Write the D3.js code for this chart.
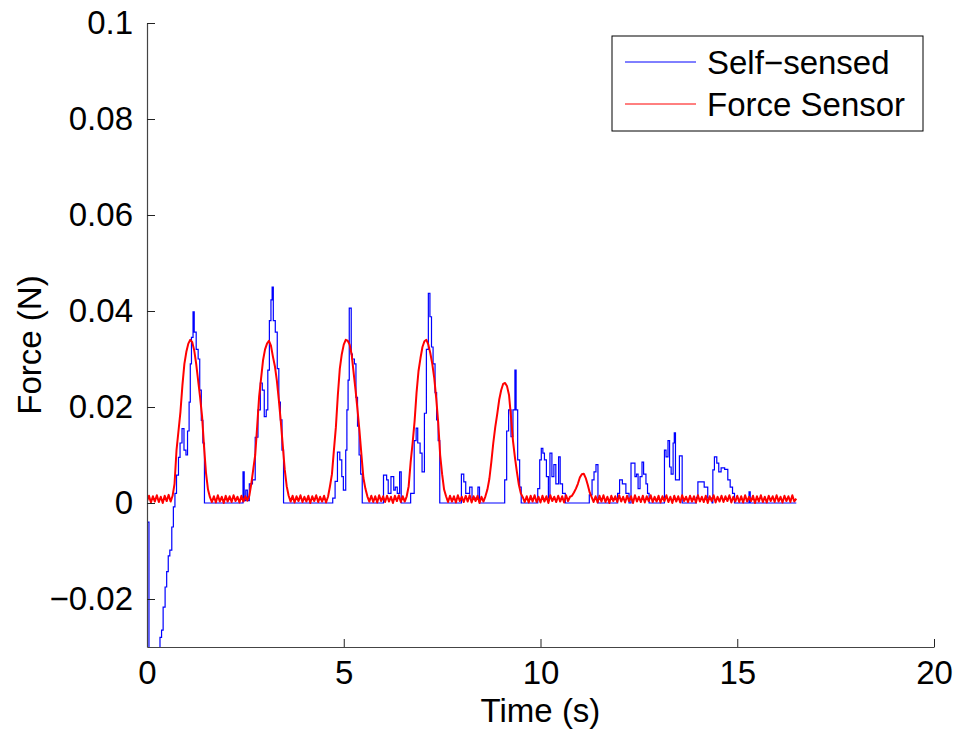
<!DOCTYPE html>
<html>
<head>
<meta charset="utf-8">
<script src="https://cdn.jsdelivr.net/npm/d3@7"></script>
<style>
  html, body { margin: 0; padding: 0; background: #fff; }
  svg { display: block; }
  text { font-family: "Liberation Sans", Arial, Helvetica, sans-serif; fill: #000; }
</style>
</head>
<body>
<svg id="chart" width="956" height="734"></svg>
<script>
// Force sensor record: one sample every 0.05 s starting at t = 0 (N)
const forceStart = 0;
const forceStep = 0.05;
const forceValues = [
  0.0004, 0.0015, 0.0001, 0.0014, 0.0003, 0.0016, 0.0002, 0.0013, 0.0000, 0.0015, 0.0004, 0.0017, 0.0003, 0.0015, 0.0040, 0.0110, 0.0150, 0.0190, 0.0245, 0.0290,
  0.0315, 0.0332, 0.0340, 0.0335, 0.0318, 0.0290, 0.0255, 0.0220, 0.0180, 0.0117, 0.0062, 0.0028, 0.0012, 0.0002, 0.0014, 0.0001, 0.0016, 0.0003, 0.0013, 0.0000,
  0.0015, 0.0003, 0.0014, 0.0002, 0.0016, 0.0004, 0.0013, 0.0001, 0.0015, 0.0003, 0.0014, 0.0005, 0.0015, 0.0040, 0.0070, 0.0100, 0.0160, 0.0222, 0.0260, 0.0298,
  0.0320, 0.0332, 0.0338, 0.0328, 0.0305, 0.0285, 0.0255, 0.0215, 0.0170, 0.0120, 0.0070, 0.0035, 0.0015, 0.0003, 0.0015, 0.0001, 0.0014, 0.0004, 0.0016, 0.0002,
  0.0013, 0.0003, 0.0015, 0.0000, 0.0014, 0.0004, 0.0016, 0.0002, 0.0013, 0.0003, 0.0015, 0.0001, 0.0013, 0.0035, 0.0060, 0.0110, 0.0158, 0.0225, 0.0280, 0.0310,
  0.0330, 0.0340, 0.0338, 0.0330, 0.0310, 0.0272, 0.0235, 0.0194, 0.0150, 0.0100, 0.0052, 0.0030, 0.0014, 0.0003, 0.0015, 0.0002, 0.0014, 0.0001, 0.0016, 0.0004,
  0.0014, 0.0002, 0.0015, 0.0003, 0.0013, 0.0000, 0.0015, 0.0004, 0.0016, 0.0002, 0.0014, 0.0003, 0.0014, 0.0035, 0.0085, 0.0125, 0.0170, 0.0230, 0.0275, 0.0302,
  0.0325, 0.0337, 0.0340, 0.0330, 0.0312, 0.0290, 0.0260, 0.0218, 0.0168, 0.0100, 0.0060, 0.0028, 0.0014, 0.0002, 0.0015, 0.0003, 0.0014, 0.0001, 0.0016, 0.0004,
  0.0013, 0.0002, 0.0015, 0.0003, 0.0016, 0.0001, 0.0014, 0.0004, 0.0015, 0.0000, 0.0013, 0.0003, 0.0014, 0.0028, 0.0050, 0.0085, 0.0125, 0.0158, 0.0185, 0.0215,
  0.0235, 0.0248, 0.0250, 0.0243, 0.0225, 0.0180, 0.0130, 0.0095, 0.0065, 0.0038, 0.0020, 0.0012, 0.0002, 0.0014, 0.0001, 0.0015, 0.0003, 0.0016, 0.0002, 0.0013,
  0.0001, 0.0015, 0.0003, 0.0014, 0.0000, 0.0016, 0.0004, 0.0013, 0.0002, 0.0015, 0.0003, 0.0014, 0.0001, 0.0016, 0.0004, 0.0013, 0.0015, 0.0022, 0.0030, 0.0040,
  0.0053, 0.0060, 0.0061, 0.0052, 0.0038, 0.0022, 0.0012, 0.0002, 0.0014, 0.0001, 0.0015, 0.0003, 0.0016, 0.0002, 0.0013, 0.0000, 0.0015, 0.0004, 0.0014, 0.0002,
  0.0016, 0.0003, 0.0013, 0.0001, 0.0015, 0.0004, 0.0014, 0.0000, 0.0016, 0.0003, 0.0013, 0.0002, 0.0015, 0.0001, 0.0014, 0.0004, 0.0016, 0.0002, 0.0013, 0.0003,
  0.0015, 0.0001, 0.0014, 0.0004, 0.0016, 0.0002, 0.0013, 0.0000, 0.0015, 0.0003, 0.0014, 0.0001, 0.0016, 0.0004, 0.0013, 0.0002, 0.0015, 0.0003, 0.0014, 0.0001,
  0.0016, 0.0003, 0.0013, 0.0002, 0.0015, 0.0000, 0.0014, 0.0004, 0.0016, 0.0001, 0.0013, 0.0003, 0.0015, 0.0002, 0.0014, 0.0004, 0.0016, 0.0001, 0.0013, 0.0003,
  0.0015, 0.0002, 0.0014, 0.0001, 0.0016, 0.0003, 0.0013, 0.0004, 0.0015, 0.0000, 0.0014, 0.0003, 0.0016, 0.0002, 0.0013, 0.0001, 0.0015, 0.0004, 0.0014, 0.0002,
  0.0016, 0.0003, 0.0013, 0.0001, 0.0015, 0.0004, 0.0014, 0.0002, 0.0016, 0.0003, 0.0009
];

// Self-sensed estimate: held values, each [time (s), force (N)] lasting until the next one
const selfSensed = [
  [0.00, 0.0075], [0.01, -0.0040], [0.05, -0.0400], [0.33, -0.0280], [0.37, -0.0265], [0.41, -0.0217],
  [0.46, -0.0175], [0.50, -0.0143], [0.54, -0.0110], [0.58, -0.0098], [0.63, -0.0050], [0.67, -0.0008],
  [0.71, 0.0020], [0.75, 0.0058], [0.80, 0.0095], [0.84, 0.0125], [0.89, 0.0155], [0.94, 0.0110],
  [0.99, 0.0100], [1.03, 0.0150], [1.07, 0.0210], [1.10, 0.0290], [1.13, 0.0345], [1.17, 0.0398],
  [1.20, 0.0356], [1.25, 0.0320], [1.30, 0.0300], [1.34, 0.0235], [1.38, 0.0172], [1.42, 0.0125], [1.46, 0],
  [2.44, 0.0065], [2.47, 0.0005], [2.51, 0.0027], [2.55, 0.0005], [2.60, 0.0040], [2.68, 0.0048],
  [2.75, 0.0137], [2.82, 0.0194], [2.88, 0.0250], [2.93, 0.0235], [2.98, 0.0180], [3.03, 0.0194],
  [3.07, 0.0277], [3.11, 0.0380], [3.15, 0.0423], [3.18, 0.0450], [3.21, 0.0380], [3.26, 0.0356],
  [3.31, 0.0280], [3.35, 0.0210], [3.39, 0.0173], [3.43, 0.0110], [3.47, 0],
  [4.72, 0.0010], [4.78, 0.0045], [4.84, 0.0106], [4.90, 0.0090], [4.95, 0.0055], [4.99, 0.0027],
  [5.05, 0.0110], [5.08, 0.0194], [5.11, 0.0256], [5.14, 0.0406], [5.19, 0.0310], [5.22, 0.0300],
  [5.27, 0.0290], [5.31, 0.0220], [5.35, 0.0160], [5.39, 0.0100], [5.43, 0.0060], [5.47, 0],
  [6.01, 0.0058], [6.09, 0.0048], [6.13, 0.0020], [6.20, 0.0055], [6.27, 0.0027], [6.31, 0.0033],
  [6.36, 0.0020], [6.42, 0.0065], [6.46, 0],
  [6.70, 0.0020], [6.79, 0.0130], [6.84, 0.0156], [6.88, 0.0125], [6.94, 0.0104], [6.99, 0.0065],
  [7.05, 0.0187], [7.10, 0.0320], [7.15, 0.0437], [7.19, 0.0388], [7.23, 0.0325], [7.27, 0.0290],
  [7.32, 0.0230], [7.36, 0.0173], [7.40, 0.0130], [7.44, 0],
  [7.99, 0.0060], [8.05, 0.0044], [8.10, 0.0020], [8.20, 0.0033], [8.26, 0.0010], [8.41, 0.0033], [8.45, 0],
  [9.09, 0.0048], [9.14, 0.0150], [9.19, 0.0194], [9.25, 0.0138], [9.30, 0.0194], [9.35, 0.0277],
  [9.38, 0.0194], [9.42, 0.0090], [9.47, 0.0033], [9.51, 0],
  [9.93, 0.0030], [9.98, 0.0090], [10.02, 0.0114], [10.06, 0.0104], [10.10, 0.0090], [10.15, 0.0055],
  [10.20, 0.0010], [10.24, 0.0104], [10.29, 0.0055], [10.34, 0.0080], [10.39, 0.0040], [10.46, 0.0096],
  [10.50, 0.0040], [10.56, 0.0020], [10.63, 0],
  [11.24, 0.0017], [11.31, 0.0048], [11.36, 0.0065], [11.41, 0.0080], [11.46, 0],
  [11.96, 0.0020], [12.01, 0.0048], [12.08, 0.0040], [12.17, 0.0020], [12.25, 0], [12.30, 0.0083],
  [12.40, 0.0055], [12.44, 0.0060], [12.48, 0.0030], [12.53, 0.0055], [12.58, 0.0085], [12.62, 0.0060],
  [12.68, 0.0040], [12.72, 0.0020], [12.76, 0],
  [13.15, 0.0110], [13.19, 0.0096], [13.24, 0.0130], [13.28, 0.0075], [13.32, 0.0060], [13.37, 0.0125],
  [13.40, 0.0146], [13.43, 0.0048], [13.53, 0.0098], [13.60, 0],
  [13.96, 0.0012], [14.00, 0.0044], [14.16, 0.0033], [14.25, 0.0010], [14.36, 0], [14.38, 0.0069],
  [14.42, 0.0096], [14.48, 0.0083], [14.53, 0.0065], [14.59, 0.0073], [14.68, 0.0070], [14.76, 0.0048],
  [14.82, 0.0033], [14.88, 0.0020], [14.93, 0], [15.30, 0.0023], [15.33, 0], [16.50, 0]
];

const xTicks = [0, 5, 10, 15, 20];
const yTicks = [-0.02, 0, 0.02, 0.04, 0.06, 0.08, 0.1];
const yTickLabels = ["\u22120.02", "0", "0.02", "0.04", "0.06", "0.08", "0.1"];
const seriesNames = ["Self\u2212sensed", "Force Sensor"];
const seriesColors = ["#0000ff", "#ff0000"];

const svg = d3.select("#chart");
const plotLeft = 147, plotRight = 934, plotTop = 23, plotBottom = 647;
const fontSize = 33;

const x = d3.scaleLinear().domain([0, 20]).range([plotLeft, plotRight]);
const y = d3.scaleLinear().domain([-0.03, 0.1]).range([plotBottom, plotTop]);

svg.append("defs").append("clipPath").attr("id", "plotClip")
  .append("rect").attr("x", plotLeft).attr("y", plotTop)
  .attr("width", plotRight - plotLeft).attr("height", plotBottom - plotTop);

const plot = svg.append("g").attr("clip-path", "url(#plotClip)");

// Self-sensed trace as a held (step) signal
const stepLine = d3.line()
  .x(d => x(d[0])).y(d => y(d[1]))
  .curve(d3.curveStepAfter);
plot.append("path")
  .datum(selfSensed)
  .attr("d", stepLine)
  .attr("fill", "none")
  .attr("stroke", seriesColors[0])
  .attr("stroke-width", 1.2);

// Force sensor trace
const forceSeries = forceValues.map((v, i) => [forceStart + i * forceStep, v]);
const sensorLine = d3.line().x(d => x(d[0])).y(d => y(d[1]));
plot.append("path")
  .datum(forceSeries)
  .attr("d", sensorLine)
  .attr("fill", "none")
  .attr("stroke", seriesColors[1])
  .attr("stroke-width", 2)
  .attr("stroke-linejoin", "round");

// Axes with inward ticks
const xAxis = d3.axisBottom(x)
  .tickValues(xTicks)
  .tickFormat(d3.format("d"))
  .tickSizeInner(-8).tickSizeOuter(0).tickPadding(14);
const gx = svg.append("g").attr("transform", `translate(0,${plotBottom})`).call(xAxis);

const yAxis = d3.axisLeft(y)
  .tickValues(yTicks)
  .tickFormat((d, i) => yTickLabels[i])
  .tickSizeInner(-8).tickSizeOuter(0).tickPadding(14);
const gy = svg.append("g").attr("transform", `translate(${plotLeft},0)`).call(yAxis);

[gx, gy].forEach(g => {
  g.select(".domain").attr("stroke", "#444").attr("stroke-width", 1.2);
  g.selectAll(".tick line").attr("stroke", "#222");
  g.selectAll(".tick text")
    .attr("font-size", fontSize)
    .attr("font-family", "Liberation Sans, Arial, sans-serif")
    .attr("fill", "#000");
});

// Axis titles
svg.append("text")
  .attr("x", (plotLeft + plotRight) / 2).attr("y", 722)
  .attr("text-anchor", "middle")
  .attr("font-size", fontSize)
  .text("Time (s)");

svg.append("text")
  .attr("transform", `translate(41,${(plotTop + plotBottom) / 2 + 10}) rotate(-90)`)
  .attr("text-anchor", "middle")
  .attr("font-size", fontSize)
  .text("Force (N)");

// Legend
const legend = svg.append("g");
legend.append("rect")
  .attr("x", 612).attr("y", 36).attr("width", 311).attr("height", 95)
  .attr("fill", "#fff").attr("stroke", "#000").attr("stroke-width", 1);
const legendRows = [62, 104];
seriesNames.forEach((name, i) => {
  legend.append("line")
    .attr("x1", 625).attr("x2", 696)
    .attr("y1", legendRows[i]).attr("y2", legendRows[i])
    .attr("stroke", seriesColors[i]).attr("stroke-width", 1);
  legend.append("text")
    .attr("x", 707).attr("y", legendRows[i] + 12)
    .attr("font-size", fontSize)
    .text(name);
});
</script>
</body>
</html>
